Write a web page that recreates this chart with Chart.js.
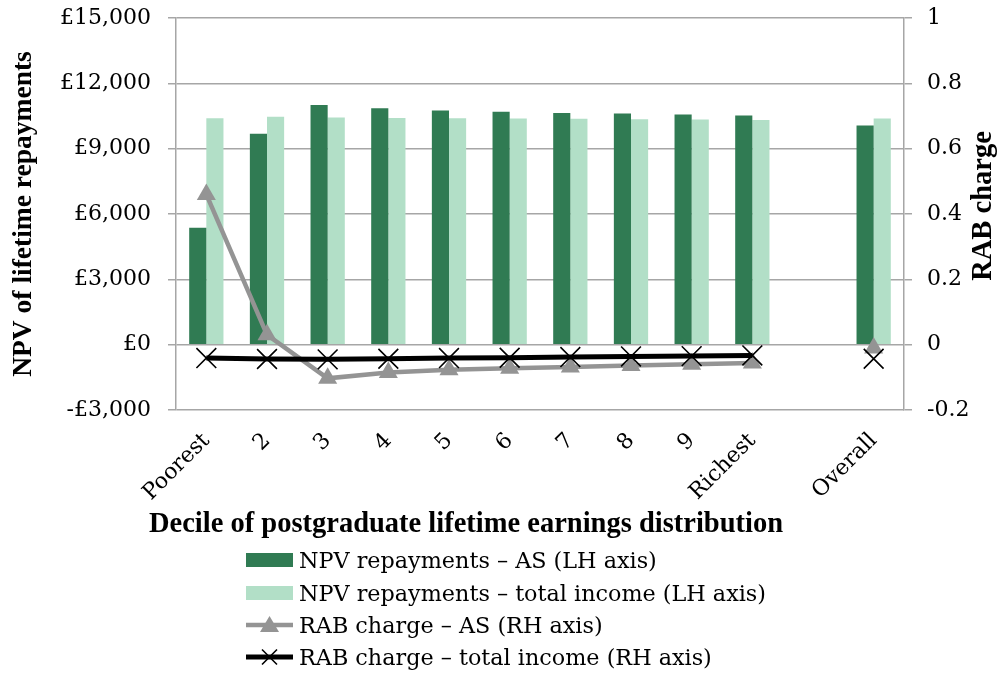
<!DOCTYPE html>
<html>
<head>
<meta charset="utf-8">
<script src="https://cdn.jsdelivr.net/npm/chart.js@4.4.0/dist/chart.umd.min.js"></script>
<style>
  html, body { margin: 0; padding: 0; background: #fff; }
  #wrap { position: relative; width: 1001px; height: 673px; }
  #legend { position: absolute; left: 246px; top: 544px; font-family: "DejaVu Serif", serif; font-size: 22.3px; color: #000; }
  #legend .row { height: 32.4px; display: flex; align-items: center; white-space: nowrap; }
  #legend svg { margin-right: 6px; flex: none; }
</style>
</head>
<body>
<div id="wrap">
  <canvas id="chart" width="1001" height="673"></canvas>
  <div id="legend"></div>
</div>
<script>
// categorieen (lege plek tussen Richest en Overall)
const categories = ['Poorest', '2', '3', '4', '5', '6', '7', '8', '9', 'Richest', '', 'Overall'];

// NPV van terugbetalingen (linker as)
const npvAS = [5370, 9690, 11000, 10860, 10750, 10690, 10640, 10610, 10570, 10520, null, 10060];
const npvTotal = [10400, 10460, 10430, 10410, 10400, 10380, 10370, 10350, 10340, 10320, null, 10380];

// RAB charge (rechter as)
const rabAS = [0.46, 0.03, -0.103, -0.085, -0.077, -0.072, -0.068, -0.064, -0.060, -0.056, null, -0.01];
const rabTotal = [-0.041, -0.044, -0.045, -0.043, -0.041, -0.040, -0.038, -0.036, -0.035, -0.033, null, -0.043];

// as-instellingen
const leftMin = -3000, leftMax = 15000, leftStep = 3000;
const rightMin = -0.2, rightMax = 1, rightStep = 0.2;

const seriesNames = [
  'NPV repayments \u2013 AS (LH axis)',
  'NPV repayments \u2013 total income (LH axis)',
  'RAB charge \u2013 AS (RH axis)',
  'RAB charge \u2013 total income (RH axis)'
];
const leftTitle = 'NPV of lifetime repayments';
const rightTitle = 'RAB charge';
const xTitle = 'Decile of postgraduate lifetime earnings distribution';

const darkGreen = '#307b53';
const lightGreen = '#b2dfc7';
const grey = '#949494';
const gridColor = '#a6a6a6';
const tickFont = '"DejaVu Serif", serif';
const titleFont = '"Liberation Serif", serif';

// extra titels: rechter as leest van onder naar boven, x-titel zit wat links
const extraTitles = {
  id: 'extraTitles',
  afterDraw(chart) {
    const ctx = chart.ctx;
    const area = chart.chartArea;
    ctx.save();
    ctx.fillStyle = '#000';
    ctx.textAlign = 'center';
    ctx.textBaseline = 'middle';
    ctx.font = 'bold 28.5px ' + titleFont;
    ctx.fillText(xTitle, (area.left + area.right) / 2 - 74, area.bottom + 115);
    ctx.translate(area.right + 80, (area.top + area.bottom) / 2 - 8);
    ctx.rotate(-Math.PI / 2);
    ctx.fillText(rightTitle, 0, 0);
    ctx.restore();
  }
};

// y-assen: vaste breedte en geen extra ruimte boven/onder voor de labels
function fixWidth(w) {
  return function(scale) {
    scale.width = w;
    scale.paddingTop = 0;
    scale.paddingBottom = 0;
  };
}

const config = {
  type: 'bar',
  data: {
    labels: categories,
    datasets: [
      {
        label: seriesNames[3],
        type: 'line',
        data: rabTotal,
        yAxisID: 'y1',
        order: 0,
        borderColor: '#000',
        borderWidth: 5,
        pointStyle: 'crossRot',
        pointRadius: 14,
        pointBorderWidth: 1.6,
        pointBorderColor: '#000',
        pointBackgroundColor: '#000',
        spanGaps: false,
        tension: 0
      },
      {
        label: seriesNames[2],
        type: 'line',
        data: rabAS,
        yAxisID: 'y1',
        order: 1,
        borderColor: grey,
        borderWidth: 4.5,
        pointStyle: 'triangle',
        pointRadius: 11,
        pointBorderWidth: 0,
        pointBorderColor: grey,
        pointBackgroundColor: grey,
        spanGaps: false,
        tension: 0
      },
      {
        label: seriesNames[0],
        data: npvAS,
        yAxisID: 'y',
        order: 2,
        backgroundColor: darkGreen,
        barPercentage: 1,
        categoryPercentage: 0.565
      },
      {
        label: seriesNames[1],
        data: npvTotal,
        yAxisID: 'y',
        order: 3,
        backgroundColor: lightGreen,
        barPercentage: 1,
        categoryPercentage: 0.565
      }
    ]
  },
  options: {
    responsive: false,
    animation: false,
    devicePixelRatio: 1,
    layout: { padding: { top: 18, left: 0, right: 0, bottom: 153 } },
    plugins: {
      legend: { display: false },
      tooltip: { enabled: false }
    },
    scales: {
      x: {
        grid: { display: false },
        border: { display: false },
        ticks: {
          autoSkip: false,
          maxRotation: 45,
          minRotation: 45,
          padding: 10,
          color: '#000',
          font: { family: tickFont, size: 22 }
        },
        afterFit(scale) { scale.height = 110; }
      },
      y: {
        position: 'left',
        min: leftMin,
        max: leftMax,
        ticks: {
          stepSize: leftStep,
          padding: 17,
          color: '#000',
          font: { family: tickFont, size: 22 },
          callback: v => (v < 0 ? '-\u00a3' : '\u00a3') + Math.abs(v).toLocaleString('en-GB')
        },
        grid: { color: gridColor, lineWidth: 1.5, tickLength: 8 },
        border: { color: gridColor, width: 1.5 },
        title: {
          display: true,
          text: leftTitle,
          color: '#000',
          font: { family: titleFont, size: 27.5, weight: 'bold' },
          padding: { top: 7, bottom: 0 }
        },
        afterFit: fixWidth(176)
      },
      y1: {
        position: 'right',
        min: rightMin,
        max: rightMax,
        ticks: {
          stepSize: rightStep,
          padding: 15,
          color: '#000',
          font: { family: tickFont, size: 22 },
          callback: v => String(+v.toFixed(1))
        },
        grid: { drawOnChartArea: false, color: gridColor, lineWidth: 1.5, tickLength: 8 },
        border: { color: gridColor, width: 1.5 },
        afterFit: fixWidth(97)
      }
    }
  },
  plugins: [extraTitles]
};

const myChart = new Chart(document.getElementById('chart'), config);

// HTML legenda, vier regels onder elkaar
function markerSvg(ds) {
  const ns = 'http://www.w3.org/2000/svg';
  const svg = document.createElementNS(ns, 'svg');
  svg.setAttribute('width', 47);
  svg.setAttribute('height', 28);
  if (ds.type !== 'line') {
    const r = document.createElementNS(ns, 'rect');
    r.setAttribute('x', 0); r.setAttribute('y', 7);
    r.setAttribute('width', 47); r.setAttribute('height', 14);
    r.setAttribute('fill', ds.backgroundColor);
    svg.appendChild(r);
    return svg;
  }
  const l = document.createElementNS(ns, 'line');
  l.setAttribute('x1', 0); l.setAttribute('y1', 14);
  l.setAttribute('x2', 47); l.setAttribute('y2', 14);
  l.setAttribute('stroke', ds.borderColor);
  l.setAttribute('stroke-width', ds.borderWidth);
  l.setAttribute('stroke-linecap', 'round');
  svg.appendChild(l);
  if (ds.pointStyle === 'triangle') {
    const p = document.createElementNS(ns, 'polygon');
    p.setAttribute('points', '23.5,5 33,21 14,21');
    p.setAttribute('fill', ds.pointBackgroundColor);
    svg.appendChild(p);
  } else {
    const p = document.createElementNS(ns, 'path');
    p.setAttribute('d', 'M16,6.5 L31,21.5 M31,6.5 L16,21.5');
    p.setAttribute('stroke', ds.pointBorderColor);
    p.setAttribute('stroke-width', 1.6);
    svg.appendChild(p);
  }
  return svg;
}

const legendBox = document.getElementById('legend');
const legendOrder = [2, 3, 1, 0];
legendOrder.forEach(i => {
  const ds = myChart.data.datasets[i];
  const row = document.createElement('div');
  row.className = 'row';
  row.appendChild(markerSvg(ds));
  const span = document.createElement('span');
  span.textContent = ds.label;
  row.appendChild(span);
  legendBox.appendChild(row);
});
</script>
</body>
</html>
